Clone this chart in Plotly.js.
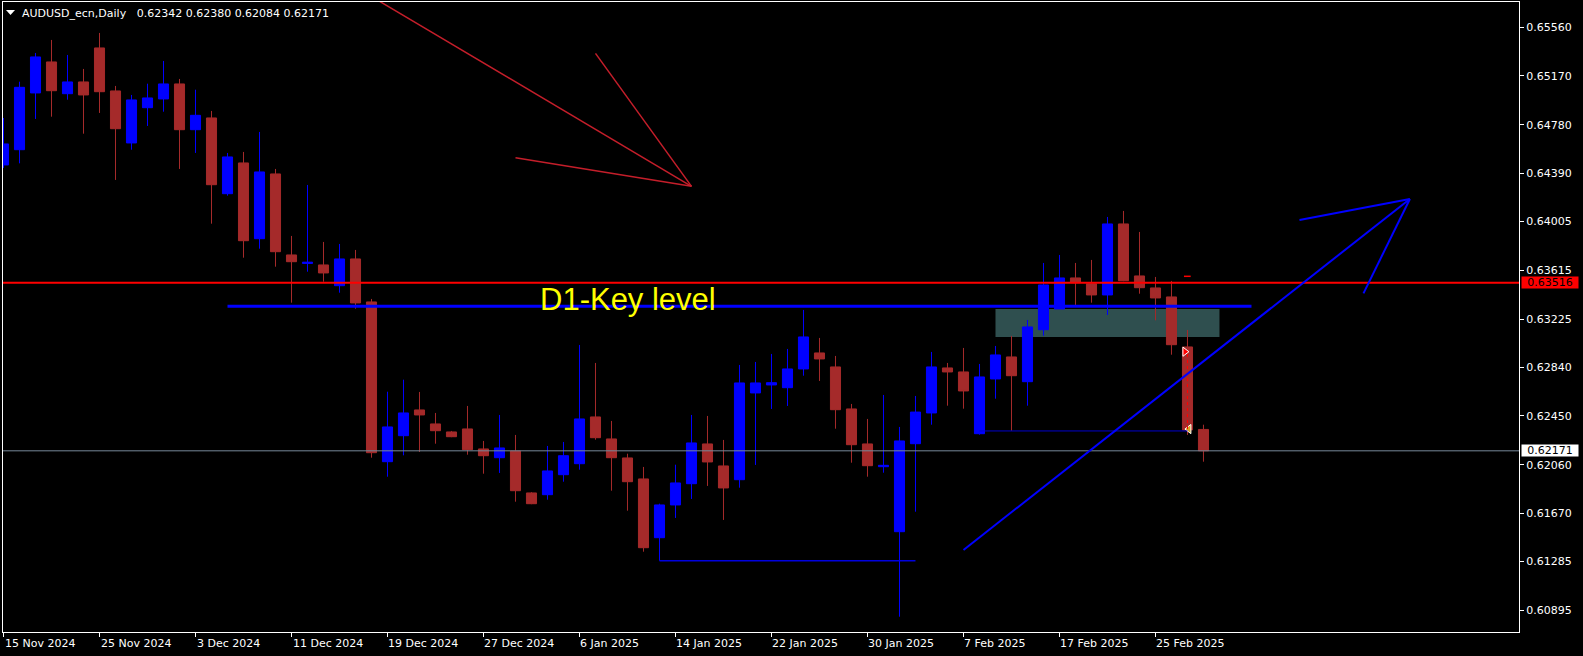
<!DOCTYPE html>
<html><head><meta charset="utf-8">
<script src="https://cdn.plot.ly/plotly-3.0.1.min.js"></script>
<style>html,body{margin:0;padding:0;background:#000;}#chart{width:1583px;height:656px;}</style>
</head><body><div id="chart"></div>
<script>
// ---------- data ----------
const symbol = 'AUDUSD_ecn';
const period = 'Daily';
const dates = [
 '2024-11-15','2024-11-18','2024-11-19','2024-11-20','2024-11-21','2024-11-22','2024-11-25','2024-11-26','2024-11-27','2024-11-28','2024-11-29',
 '2024-12-02','2024-12-03','2024-12-04','2024-12-05','2024-12-06','2024-12-09','2024-12-10','2024-12-11','2024-12-12','2024-12-13',
 '2024-12-16','2024-12-17','2024-12-18','2024-12-19','2024-12-20','2024-12-23','2024-12-24','2024-12-25','2024-12-26','2024-12-27','2024-12-30','2024-12-31',
 '2025-01-01','2025-01-02','2025-01-03','2025-01-06','2025-01-07','2025-01-08','2025-01-09','2025-01-10','2025-01-13','2025-01-14','2025-01-15','2025-01-16','2025-01-17',
 '2025-01-20','2025-01-21','2025-01-22','2025-01-23','2025-01-24','2025-01-27','2025-01-28','2025-01-29','2025-01-30','2025-01-31',
 '2025-02-03','2025-02-04','2025-02-05','2025-02-06','2025-02-07','2025-02-10','2025-02-11','2025-02-12','2025-02-13','2025-02-14',
 '2025-02-17','2025-02-18','2025-02-19','2025-02-20','2025-02-21','2025-02-24','2025-02-25','2025-02-26','2025-02-27','2025-02-28'];
const openP = [0.64458,0.64580,0.65034,0.65282,0.65028,0.65122,0.65394,0.65050,0.64634,0.64916,0.64986,
 0.65106,0.64740,0.64834,0.64228,0.64474,0.63868,0.64386,0.63738,0.63670,0.63658,
 0.63492,0.63706,0.63362,0.62084,0.62292,0.62498,0.62386,0.62322,0.62346,0.62186,0.62116,0.62170,
 0.61834,0.61820,0.61980,0.62068,0.62442,0.62266,0.62114,0.61946,0.61476,0.61738,0.61908,0.62226,0.62050,
 0.61940,0.62634,0.62698,0.62676,0.62826,0.62954,0.62842,0.62506,0.62226,0.62044,
 0.61524,0.62228,0.62474,0.62834,0.62802,0.62308,0.62746,0.62922,0.62724,0.63140,
 0.63306,0.63554,0.63508,0.63418,0.63986,0.63570,0.63474,0.63402,0.63002,0.62342];
const highP = [0.64834,0.65124,0.65354,0.65458,0.65338,0.65226,0.65514,0.65090,0.65018,0.65108,0.65290,
 0.65146,0.65060,0.64890,0.64554,0.64562,0.64722,0.64426,0.63890,0.64298,0.63842,
 0.63826,0.63778,0.63386,0.62644,0.62740,0.62642,0.62474,0.62330,0.62530,0.62250,0.62458,0.62298,
 0.61840,0.62210,0.62242,0.63018,0.62874,0.62410,0.62148,0.62042,0.61748,0.62060,0.62458,0.62450,0.62258,
 0.62858,0.62882,0.62946,0.62986,0.63298,0.63074,0.62930,0.62546,0.62426,0.62618,
 0.62362,0.62610,0.62962,0.62874,0.62994,0.62866,0.63010,0.63090,0.63218,0.63674,
 0.63738,0.63674,0.63698,0.64042,0.64090,0.63922,0.63562,0.63530,0.63138,0.62380];
const lowP = [0.64434,0.64471,0.64826,0.64844,0.64980,0.64708,0.64874,0.64338,0.64580,0.64770,0.64884,
 0.64426,0.64554,0.63988,0.64212,0.63716,0.63788,0.63644,0.63356,0.63604,0.63524,
 0.63436,0.63308,0.62116,0.61964,0.62135,0.62162,0.62228,0.62280,0.62140,0.61988,0.61994,0.61764,
 0.61744,0.61780,0.61924,0.62020,0.62260,0.61852,0.61692,0.61364,0.61292,0.61634,0.61786,0.61890,0.61618,
 0.61876,0.62058,0.62506,0.62530,0.62772,0.62730,0.62348,0.62076,0.61964,0.61996,
 0.60844,0.61684,0.62380,0.62532,0.62508,0.62300,0.62588,0.62332,0.62532,0.63092,
 0.63306,0.63338,0.63356,0.63258,0.63528,0.63428,0.63215,0.62940,0.62298,0.62084];
const closeP = [0.64626,0.65079,0.65322,0.65052,0.65122,0.65018,0.65044,0.64748,0.64978,0.64994,0.65106,
 0.64740,0.64855,0.64300,0.64522,0.63852,0.64402,0.63764,0.63684,0.63680,0.63594,
 0.63706,0.63354,0.62156,0.62362,0.62474,0.62458,0.62332,0.62284,0.62180,0.62132,0.62194,0.61852,
 0.61748,0.62010,0.62132,0.62426,0.62276,0.62116,0.61924,0.61396,0.61738,0.61914,0.62234,0.62082,0.61874,
 0.62714,0.62714,0.62716,0.62826,0.63082,0.62906,0.62500,0.62220,0.62052,0.62055,
 0.62250,0.62481,0.62842,0.62802,0.62650,0.62762,0.62938,0.62772,0.63162,0.63498,
 0.63554,0.63516,0.63418,0.63986,0.63532,0.63476,0.63394,0.63020,0.62338,0.62171];

const priceTicks = [0.65560,0.65170,0.64780,0.64390,0.64005,0.63615,0.63225,0.62840,0.62450,0.62060,0.61670,0.61285,0.60895];
const dateTickDates = ['2024-11-15','2024-11-25','2024-12-03','2024-12-11','2024-12-19','2024-12-27','2025-01-06','2025-01-14','2025-01-22','2025-01-30','2025-02-07','2025-02-17','2025-02-25'];
const dateTickLabels = ['15 Nov 2024','25 Nov 2024','3 Dec 2024','11 Dec 2024','19 Dec 2024','27 Dec 2024','6 Jan 2025','14 Jan 2025','22 Jan 2025','30 Jan 2025','7 Feb 2025','17 Feb 2025','25 Feb 2025'];

// drawn objects (bar index, price)
const keyLevel = 0.63516;
const d1Key = {from: 14, to: 78, price: 0.63327, label: 'D1-Key level', labelBar: 33.49, labelPrice: 0.63383};
const zone = {from: 62, to: 76, low: 0.63082, high: 0.63306};
const redArrowTip = [43, 0.64287];
const redArrowTails = [[20, 0.66033], [37, 0.65351], [32, 0.64516]];
const blueArrowTip = [87.9, 0.64186];
const blueArrowTails = [[60, 0.61378], [81, 0.64018], [85, 0.63431]];
const lowLine = {from: 41, to: 57, price: 0.61292};
const tradeLine = {from: 61, to: 74, price: 0.62330};
const tradeOpen = [73.84, 0.62964];
const tradeClose = [74.09, 0.62345];
const stopMark = {from: 73.78, to: 74.2, price: 0.63567};

// ---------- chart ----------
const bars = dates.map((d, i) => i);
const last = bars.length - 1;
const bid = closeP[last];
const F = 'DejaVu Sans';

const candles = {
  type: 'candlestick', x: bars, open: openP, high: highP, low: lowP, close: closeP,
  increasing: {line: {color: '#0000ff', width: 1}, fillcolor: '#0000ff'},
  decreasing: {line: {color: '#a52a2a', width: 1}, fillcolor: '#a52a2a'},
  whiskerwidth: 0, hoverinfo: 'none', showlegend: false
};
const marks = {
  type: 'scatter', mode: 'markers', x: [tradeOpen[0], tradeClose[0]], y: [tradeOpen[1], tradeClose[1]],
  marker: {symbol: ['triangle-right', 'triangle-left'], size: 8, color: ['#ff0000', '#daa520'], line: {color: '#ffffff', width: 1}},
  hoverinfo: 'none', showlegend: false, cliponaxis: false
};

const shapes = [];
function hline(x0, x1, y, color, width, dash) {
  shapes.push({type: 'line', xref: 'x', yref: 'y', x0: x0, x1: x1, y0: y, y1: y, line: {color: color, width: width, dash: dash || 'solid'}});
}
shapes.push({type: 'rect', xref: 'x', yref: 'y', x0: zone.from, x1: zone.to, y0: zone.low, y1: zone.high, fillcolor: '#2f4f4f', line: {width: 0}, layer: 'below'});
shapes.push({type: 'line', xref: 'paper', yref: 'y', x0: 0, x1: 1, y0: bid, y1: bid, line: {color: '#778899', width: 1}});
shapes.push({type: 'line', xref: 'paper', yref: 'y', x0: 0, x1: 1, y0: keyLevel, y1: keyLevel, line: {color: '#ff0000', width: 2}});
hline(d1Key.from, d1Key.to, d1Key.price, '#0000ff', 3);
hline(lowLine.from, lowLine.to, lowLine.price, '#0000dd', 1.5);
hline(tradeLine.from, tradeLine.to, tradeLine.price, '#0000cc', 1);
hline(stopMark.from, stopMark.to, stopMark.price, '#ff0000', 1.5);
shapes.push({type: 'line', xref: 'x', yref: 'y', x0: 74, x1: 74, y0: tradeClose[1], y1: tradeOpen[1], line: {color: '#ff0000', width: 1, dash: 'dot'}});
redArrowTails.forEach(t => shapes.push({type: 'line', xref: 'x', yref: 'y', x0: t[0], y0: t[1], x1: redArrowTip[0], y1: redArrowTip[1], line: {color: '#c41e2a', width: 1.5}}));
blueArrowTails.forEach(t => shapes.push({type: 'line', xref: 'x', yref: 'y', x0: t[0], y0: t[1], x1: blueArrowTip[0], y1: blueArrowTip[1], line: {color: '#0000ff', width: 2}}));
// menu triangle before the title
shapes.push({type: 'path', xref: 'paper', yref: 'paper', xsizemode: 'pixel', ysizemode: 'pixel', xanchor: 0, yanchor: 1,
  path: 'M3,-8 L12,-8 L7.5,-13 Z', fillcolor: '#ffffff', line: {width: 0}});

const annotations = [];
dateTickDates.forEach((d, k) => annotations.push({
  x: dates.indexOf(d), xref: 'x', y: 0, yref: 'paper', yshift: -4, text: dateTickLabels[k], showarrow: false,
  xanchor: 'left', yanchor: 'top', borderpad: 0, font: {family: F, size: 11, color: '#ffffff'}
}));
annotations.push({x: d1Key.labelBar, y: d1Key.labelPrice, xref: 'x', yref: 'y', text: d1Key.label, showarrow: false,
  xanchor: 'left', yanchor: 'middle', borderpad: 0, font: {family: 'Liberation Sans', size: 31, color: '#ffff00'}});
annotations.push({x: 1, xref: 'paper', xanchor: 'left', xshift: 2, y: keyLevel, yref: 'y', yanchor: 'middle', text: keyLevel.toFixed(5),
  showarrow: false, bgcolor: '#ff0000', borderpad: 0, width: 56, height: 11, align: 'center', font: {family: F, size: 11, color: '#000000'}});
annotations.push({x: 1, xref: 'paper', xanchor: 'left', xshift: 2, y: bid, yref: 'y', yanchor: 'middle', text: bid.toFixed(5),
  showarrow: false, bgcolor: '#ffffff', borderpad: 0, width: 56, height: 11, align: 'center', font: {family: F, size: 11, color: '#000000'}});

const titleText = symbol + ',' + period + '\u00a0\u00a0 ' + [openP[last], highP[last], lowP[last], closeP[last]].map(v => v.toFixed(5)).join(' ');

const layout = {
  width: 1583, height: 656,
  paper_bgcolor: '#000000', plot_bgcolor: '#000000',
  margin: {l: 3, r: 64, t: 2, b: 24},
  showlegend: false,
  boxgap: 0.37, boxgroupgap: 0,
  title: {text: titleText, x: 22 / 1583, xref: 'container', xanchor: 'left', y: 1 - 12.7 / 656, yref: 'container', yanchor: 'middle',
    font: {family: F, size: 11, color: '#ffffff'}},
  xaxis: {type: 'linear', range: [-0.03125, 94.72], showgrid: false, zeroline: false,
    showline: true, mirror: true, linecolor: '#ffffff', linewidth: 1,
    tickvals: dateTickDates.map(d => dates.indexOf(d)), ticks: 'outside', ticklen: 4, tickcolor: '#ffffff',
    showticklabels: false, rangeslider: {visible: false}, fixedrange: true},
  yaxis: {side: 'right', range: [0.607216, 0.657616], showgrid: false, zeroline: false,
    showline: true, mirror: true, linecolor: '#ffffff', linewidth: 1,
    tickvals: priceTicks, ticktext: priceTicks.map(v => v.toFixed(5)), ticks: 'outside', ticklen: 4, tickcolor: '#ffffff',
    tickfont: {family: F, size: 11, color: '#ffffff'}, fixedrange: true},
  shapes: shapes,
  annotations: annotations
};

Plotly.newPlot('chart', [candles, marks], layout, {displayModeBar: false, staticPlot: true});
</script>
</body></html>
